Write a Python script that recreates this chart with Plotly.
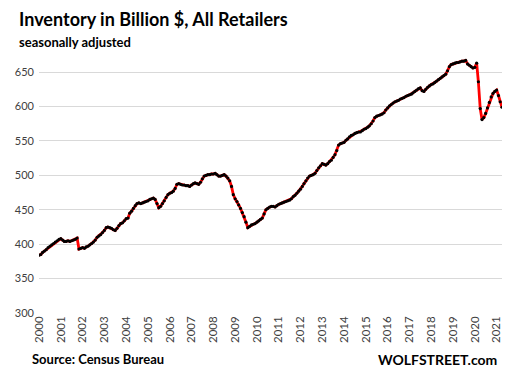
import plotly.graph_objects as go
import pandas as pd

# Monthly retail inventories, billion $, Jan 2000 - Apr 2021
v2000 = [384, 385, 388, 390, 392, 395, 397, 399, 401, 403, 405, 407]
v2001 = [408, 406, 404, 404, 405, 404, 405, 406, 407, 409, 393, 394]
v2002 = [395, 394, 396, 397, 399, 401, 403, 406, 410, 412, 414, 417]
v2003 = [420, 424, 425, 424, 423, 421, 420, 423, 427, 430, 431, 434]
v2004 = [437, 438, 445, 448, 452, 456, 459, 460, 459, 460, 461, 462]
v2005 = [463, 465, 466, 467, 465, 459, 453, 455, 459, 463, 468, 472]
v2006 = [474, 475, 477, 481, 487, 488, 487, 486, 486, 485, 485, 484]
v2007 = [486, 488, 489, 488, 487, 490, 495, 499, 500, 501, 501, 502]
v2008 = [502, 503, 501, 499, 499, 500, 501, 499, 496, 492, 484, 472]
v2009 = [466, 462, 457, 452, 446, 440, 432, 424, 426, 428, 429, 430]
v2010 = [432, 434, 436, 438, 444, 450, 452, 454, 455, 455, 454, 456]
v2011 = [458, 459, 460, 461, 462, 463, 464, 466, 469, 471, 474, 477]
v2012 = [480, 484, 488, 492, 496, 499, 500, 501, 503, 507, 511, 514]
v2013 = [517, 516, 515, 517, 520, 522, 526, 530, 536, 544, 546, 547]
v2014 = [548, 551, 553, 556, 558, 559, 561, 562, 563, 563, 565, 567]
v2015 = [568, 570, 572, 575, 579, 584, 586, 587, 588, 589, 591, 595]
v2016 = [598, 601, 603, 605, 607, 608, 609, 611, 612, 613, 615, 616]
v2017 = [617, 618, 620, 622, 624, 626, 627, 623, 622, 625, 628, 630]
v2018 = [632, 633, 635, 637, 639, 641, 643, 645, 647, 652, 658, 661]
v2019 = [662, 663, 664, 664, 665, 666, 666, 667, 662, 660, 658, 656]
v2020 = [657, 663, 636, 597, 581, 584, 590, 598, 606, 614, 619, 622]
v2021 = [624, 616, 607, 599]

years = list(range(2000, 2022))
year_labels = [str(y) for y in years]

inventory = (v2000 + v2001 + v2002 + v2003 + v2004 + v2005 + v2006 + v2007 +
             v2008 + v2009 + v2010 + v2011 + v2012 + v2013 + v2014 + v2015 +
             v2016 + v2017 + v2018 + v2019 + v2020 + v2021)
months = pd.date_range("2000-01-01", periods=len(inventory), freq="MS")
year_ticks = [pd.Timestamp(f"{y}-01-01") for y in years]

W, H = 510, 373
ML, MR, MT, MB = 39, 8, 57, 60
PW, PH = W - ML - MR, H - MT - MB

def px_x(p):
    return (p - ML) / PW

def px_y(p):
    return (H - MB - p) / PH

FONT = "Lato"

fig = go.Figure()
fig.add_trace(go.Scatter(
    x=months, y=inventory, mode="lines+markers",
    line=dict(color="#FF0000", width=2.8),
    marker=dict(color="#000000", size=3.2),
    hoverinfo="skip", showlegend=False,
))

fig.update_layout(
    width=W, height=H,
    margin=dict(l=ML, r=MR, t=MT, b=MB),
    paper_bgcolor="white", plot_bgcolor="white",
    font=dict(family=FONT, color="#404040"),
    xaxis=dict(
        range=[months[0], months[-1]],
        tickmode="array", tickvals=year_ticks, ticktext=year_labels,
        tickangle=-90, showgrid=False, showline=False, zeroline=False,
        ticks="", tickfont=dict(size=11.5, color="#404040", family=FONT),
    ),
    yaxis=dict(
        range=[300, 672], tick0=300, dtick=50,
        showgrid=True, gridcolor="#D9D9D9", gridwidth=1,
        showline=False, zeroline=False, ticks="",
        tickfont=dict(size=11, color="#404040", family=FONT),
        ticklabelstandoff=4,
    ),
    annotations=[
        dict(text="<b>Inventory in Billion $, All Retailers</b>",
             x=px_x(17), y=px_y(19), xref="paper", yref="paper",
             xanchor="left", yanchor="middle", showarrow=False,
             font=dict(size=18, color="#000000", family=FONT)),
        dict(text="<b>seasonally adjusted</b>",
             x=px_x(17), y=px_y(42), xref="paper", yref="paper",
             xanchor="left", yanchor="middle", showarrow=False,
             font=dict(size=13, color="#000000", family=FONT)),
        dict(text="<b>Source: Census Bureau</b>",
             x=px_x(30), y=px_y(359), xref="paper", yref="paper",
             xanchor="left", yanchor="middle", showarrow=False,
             font=dict(size=13, color="#000000", family=FONT)),
        dict(text="<b>WOLFSTREET.com</b>",
             x=px_x(499), y=px_y(359), xref="paper", yref="paper",
             xanchor="right", yanchor="middle", showarrow=False,
             font=dict(size=14, color="#000000", family=FONT)),
    ],
)

fig.write_html("out.html", config={"displayModeBar": False},
               post_script="document.body.style.margin='0';")
